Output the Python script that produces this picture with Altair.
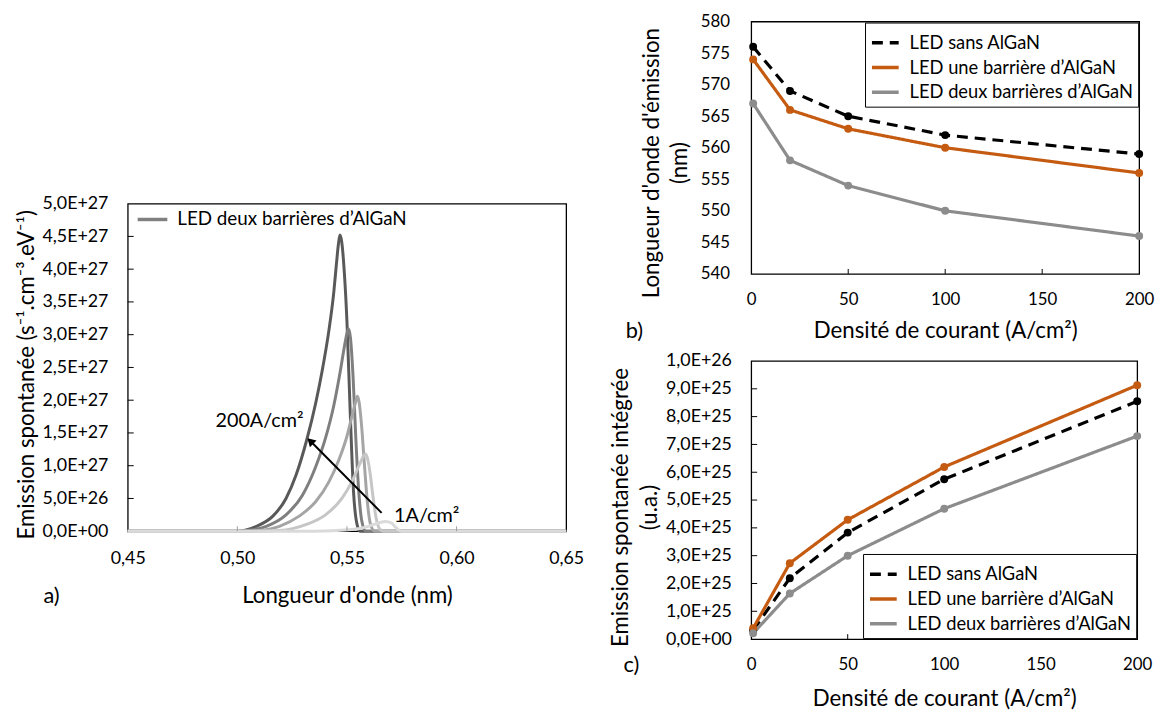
import altair as alt
import pandas as pd

FONT = "Lato"

# ---------------- a) spectra (two AlGaN barriers) ----------------
courants = ["200", "100", "50", "20", "1"]
gris = ["#595959", "#7F7F7F", "#A5A5A5", "#C6C6C6", "#DADADA"]

wl_200 = [0.450, 0.500, 0.5087, 0.5162, 0.5222, 0.5267, 0.5317, 0.5357, 0.5387, 0.5417, 0.5440, 0.5452,
          0.5461, 0.5468, 0.5476, 0.5488, 0.5500, 0.5515, 0.5530, 0.5545, 0.5560, 0.650]
em_200 = [0, 0, 0.075e27, 0.23e27, 0.50e27, 0.85e27, 1.40e27, 1.95e27, 2.45e27, 3.05e27, 3.65e27, 4.08e27,
          4.38e27, 4.52e27, 4.42e27, 3.95e27, 3.20e27, 1.80e27, 0.60e27, 0.12e27, 0, 0]

wl_100 = [0.450, 0.500, 0.5042, 0.5132, 0.5222, 0.5297, 0.5357, 0.5402, 0.5440, 0.5470, 0.5490, 0.5500,
          0.5507, 0.5516, 0.5528, 0.5540, 0.5553, 0.5568, 0.5586, 0.650]
em_100 = [0, 0, 0.01e27, 0.075e27, 0.25e27, 0.55e27, 0.98e27, 1.42e27, 1.92e27, 2.45e27, 2.85e27, 3.02e27,
          3.09e27, 2.95e27, 2.35e27, 1.45e27, 0.65e27, 0.15e27, 0, 0]

wl_50 = [0.450, 0.505, 0.5100, 0.5192, 0.5282, 0.5357, 0.5417, 0.5462, 0.5500, 0.5526, 0.5540, 0.5547,
         0.5555, 0.5567, 0.5580, 0.5593, 0.5608, 0.5628, 0.650]
em_50 = [0, 0, 0.01e27, 0.075e27, 0.23e27, 0.45e27, 0.75e27, 1.08e27, 1.45e27, 1.80e27, 1.98e27, 2.06e27,
         1.98e27, 1.60e27, 1.00e27, 0.45e27, 0.10e27, 0, 0]

wl_20 = [0.450, 0.510, 0.5192, 0.5312, 0.5402, 0.5477, 0.5523, 0.5560, 0.5576, 0.5584, 0.5593, 0.5605,
         0.5618, 0.5632, 0.5650, 0.5665, 0.650]
em_20 = [0, 0, 0.01e27, 0.10e27, 0.25e27, 0.50e27, 0.76e27, 1.04e27, 1.15e27, 1.18e27, 1.12e27, 0.90e27,
         0.55e27, 0.22e27, 0.03e27, 0, 0]

wl_1 = [0.450, 0.535, 0.5523, 0.5598, 0.5643, 0.5676, 0.5703, 0.5725, 0.5748, 0.650]
em_1 = [0, 0, 0.025e27, 0.075e27, 0.125e27, 0.15e27, 0.125e27, 0.05e27, 0, 0]

a_xticks = [0.45, 0.50, 0.55, 0.60, 0.65]
a_yticks = [0, 0.5e27, 1.0e27, 1.5e27, 2.0e27, 2.5e27, 3.0e27, 3.5e27, 4.0e27, 4.5e27, 5.0e27]

arrow_lam = [0.5658, 0.5333]
arrow_em = [0.28e27, 1.377e27]
annot_text = ["200A/cm²", "1A/cm²"]
annot_lam = [0.4900, 0.5715]
annot_em = [1.68e27, 0.23e27]

# ---------------- b) / c) versus current density ----------------
densite = [1, 20, 50, 100, 200]
series = [" LED sans AlGaN", "LED une barrière d’AlGaN", "LED deux barrières d’AlGaN"]
couleurs = ["#000000", "#C55A11", "#8C8C8C"]

lam_sans = [576, 569, 565, 562, 559]
lam_une = [574, 566, 563, 560, 556]
lam_deux = [567, 558, 554, 550, 546]

int_sans = [0.32e25, 2.19e25, 3.83e25, 5.75e25, 8.55e25]
int_une = [0.39e25, 2.73e25, 4.29e25, 6.19e25, 9.13e25]
int_deux = [0.21e25, 1.64e25, 3.00e25, 4.69e25, 7.30e25]

b_xticks = [0, 50, 100, 150, 200]
b_yticks = [540, 545, 550, 555, 560, 565, 570, 575, 580]
c_yticks = [0, 1e25, 2e25, 3e25, 4e25, 5e25, 6e25, 7e25, 8e25, 9e25, 1e26]

SCI = "datum.value == 0 ? '0,0E+00' : replace(upper(format(datum.value, '.1e')), '.', ',')"
TXT = dict(font=FONT, color="black")

# ======== panel a ========
WA, HA = 443, 331
rows = []
for c, wl, em in zip(courants, [wl_200, wl_100, wl_50, wl_20, wl_1], [em_200, em_100, em_50, em_20, em_1]):
    for w, e in zip(wl, em):
        rows.append({"courant": c, "lam": w, "em": e})
df_a = pd.DataFrame(rows)

xa_scale = alt.Scale(domain=[0.45, 0.65], nice=False, zero=False)
ya_scale = alt.Scale(domain=[0, 5e27], nice=False)


def xa_axis():
    return alt.Axis(values=a_xticks, labelExpr="replace(format(datum.value, '.2f'), '.', ',')",
                    labelPadding=19, labelOverlap=False, labelFlush=False, labelFontSize=18,
                    title="Longueur d'onde (nm)", titleY=65, titleBaseline="middle")


def ya_axis():
    return alt.Axis(values=a_yticks, labelExpr=SCI, labelPadding=20, labelOverlap=False, labelFlush=False,
                    labelFontSize=18, title="Emission spontanée (s⁻¹.cm⁻³.eV⁻¹)", titleX=-102,
                    titleY=HA / 2 + 7, titleBaseline="middle")


layers_a = []
for c, g in zip(courants, gris):
    layers_a.append(
        alt.Chart(df_a).transform_filter(alt.datum.courant == c)
        .mark_line(color=g, strokeWidth=3, interpolate="monotone")
        .encode(x=alt.X("lam:Q", scale=xa_scale, axis=xa_axis()),
                y=alt.Y("em:Q", scale=ya_scale, axis=ya_axis()),
                order="lam:Q")
    )

df_axt = pd.DataFrame({"lam": a_xticks[1:-1]})
tick_ax = alt.Chart(df_axt).mark_rule(color="#A0A0A0", strokeWidth=1).encode(
    x=alt.X("lam:Q", scale=xa_scale, axis=xa_axis()), y=alt.value(HA), y2=alt.value(HA - 5))
df_ayt = pd.DataFrame({"em": a_yticks[1:-1]})
tick_ay = alt.Chart(df_ayt).mark_rule(color="black", strokeWidth=1).encode(
    y=alt.Y("em:Q", scale=ya_scale, axis=ya_axis()), x=alt.value(0), x2=alt.value(6))

df_arrow = pd.DataFrame({"lam": arrow_lam, "em": arrow_em, "k": [0, 1]})
arrow_line = alt.Chart(df_arrow).mark_line(color="black", strokeWidth=2).encode(
    x=alt.X("lam:Q", scale=xa_scale, axis=xa_axis()), y=alt.Y("em:Q", scale=ya_scale, axis=ya_axis()),
    order="k:Q")
arrow_head = alt.Chart(df_arrow.iloc[[1]]).mark_point(shape="triangle-up", filled=True, color="black",
                                                      size=90, angle=315, opacity=1).encode(
    x=alt.X("lam:Q", scale=xa_scale, axis=xa_axis()), y=alt.Y("em:Q", scale=ya_scale, axis=ya_axis()))

df_annot = pd.DataFrame({"t": annot_text, "lam": annot_lam, "em": annot_em})
annot = alt.Chart(df_annot).mark_text(align="left", baseline="middle", fontSize=20, **TXT).encode(
    x=alt.X("lam:Q", scale=xa_scale, axis=xa_axis()), y=alt.Y("em:Q", scale=ya_scale, axis=ya_axis()),
    text="t:N")

dummy = pd.DataFrame({"v": [0]})
leg_a_line = alt.Chart(dummy).mark_rule(color="#808080", strokeWidth=3.5).encode(
    x=alt.value(10), x2=alt.value(40), y=alt.value(16))
leg_a_text = alt.Chart(dummy).mark_text(align="left", baseline="middle", fontSize=19, **TXT).encode(
    x=alt.value(50), y=alt.value(16), text=alt.value("LED deux barrières d’AlGaN"))
lab_a = alt.Chart(dummy).mark_text(align="center", baseline="middle", fontSize=22, **TXT).encode(
    x=alt.value(-77), y=alt.value(HA + 66), text=alt.value("a)"))

panel_a = alt.layer(*layers_a, tick_ax, tick_ay, arrow_line, arrow_head, annot,
                    leg_a_line, leg_a_text, lab_a).properties(width=WA, height=HA)

spacer = alt.Chart(dummy).mark_point(opacity=0).encode(
    x=alt.value(0), y=alt.value(0)).properties(width=10, height=184,
                                               view=alt.ViewBackground(stroke="transparent"))
col1 = alt.vconcat(spacer, panel_a, spacing=0, bounds="flush")


# ======== panels b and c ========
def long_df(vals):
    r = []
    for s, v in zip(series, vals):
        for x, y in zip(densite, v):
            r.append({"dens": x, "val": y, "serie": s})
    return pd.DataFrame(r)


def legend(orient, offset):
    return alt.Legend(title=None, orient=orient, offset=offset, strokeColor="black", fillColor="white",
                      padding=5, labelFont=FONT, labelFontSize=18.5, labelColor="black", labelLimit=400,
                      symbolType="stroke", symbolSize=729, symbolStrokeWidth=3.5, labelOffset=9,
                      rowPadding=0, values=series)


def panel(df, w, h, yscale, yaxis_fn, orient, offset, ytick_vals, label_txt, label_dx, label_dy, xtitle_y):
    xs = alt.Scale(domain=[0, 200], nice=False, zero=False)

    def xaxis():
        return alt.Axis(values=b_xticks, labelPadding=18, labelOverlap=False, labelFlush=False,
                        title="Densité de courant (A/cm²)", titleY=xtitle_y, titleBaseline="middle")

    col = alt.Color("serie:N", scale=alt.Scale(domain=series, range=couleurs), legend=legend(orient, offset))
    dash = alt.StrokeDash("serie:N", scale=alt.Scale(domain=series, range=[[11, 7], [1, 0], [1, 0]]),
                          legend=legend(orient, offset))
    lines = alt.Chart(df).mark_line(strokeWidth=3.2).encode(
        x=alt.X("dens:Q", scale=xs, axis=xaxis()), y=alt.Y("val:Q", scale=yscale, axis=yaxis_fn()),
        color=col, strokeDash=dash, order="dens:Q")
    layers = [lines]
    for s, cc in zip(series, couleurs):
        layers.append(
            alt.Chart(df).transform_filter(alt.datum.serie == s).mark_circle(size=64, opacity=1, color=cc)
            .encode(x=alt.X("dens:Q", scale=xs, axis=xaxis()), y=alt.Y("val:Q", scale=yscale, axis=yaxis_fn()))
        )
    tx = alt.Chart(pd.DataFrame({"dens": [50, 100, 150]})).mark_rule(color="black", strokeWidth=1).encode(
        x=alt.X("dens:Q", scale=xs, axis=xaxis()), y=alt.value(h), y2=alt.value(h - 5))
    layers.append(tx)
    if ytick_vals:
        ty = alt.Chart(pd.DataFrame({"val": ytick_vals})).mark_rule(color="black", strokeWidth=1).encode(
            y=alt.Y("val:Q", scale=yscale, axis=yaxis_fn()), x=alt.value(0), x2=alt.value(6))
        layers.append(ty)
    lab = alt.Chart(dummy).mark_text(align="center", baseline="middle", fontSize=22, **TXT).encode(
        x=alt.value(label_dx), y=alt.value(label_dy), text=alt.value(label_txt))
    layers.append(lab)
    return alt.layer(*layers).properties(width=w, height=h)


WB, HB = 392, 255
yb_scale = alt.Scale(domain=[540, 580], nice=False, zero=False)


def yb_axis():
    return alt.Axis(values=b_yticks, labelPadding=22, labelOverlap=False, labelFlush=False,
                    title=["Longueur d'onde d'émission", "(nm)"],
                    titleLineHeight=29, titleX=-101, titleY=HB / 2 + 15, titleBaseline="middle")


panel_b = panel(long_df([lam_sans, lam_une, lam_deux]), WB, HB, yb_scale, yb_axis, "top-right", 1,
                None, "b)", -118, 313, 57)

WC, HC = 390, 281
yc_scale = alt.Scale(domain=[0, 1e26], nice=False)


def yc_axis():
    return alt.Axis(values=c_yticks, labelExpr=SCI, labelPadding=20, labelOverlap=False, labelFlush=False,
                    labelFontSize=18, title=["Emission spontanée intégrée", "(u.a.)"], titleLineHeight=29,
                    titleX=-132, titleY=HC / 2 + 7, titleBaseline="middle")


panel_c = panel(long_df([int_sans, int_une, int_deux]), WC, HC, yc_scale, yc_axis, "bottom-right", 1,
                c_yticks[1:-1], "c)", -121, 307, 60)

col2 = alt.vconcat(panel_b, panel_c, spacing=88, bounds="flush").resolve_scale(
    color="independent", strokeDash="independent").resolve_legend(color="independent",
                                                                 strokeDash="independent")

chart = alt.hconcat(col1, col2, spacing=24, bounds="full").resolve_scale(
    color="independent", strokeDash="independent").properties(
    padding={"left": 7, "top": 0, "right": 0, "bottom": 0}
).configure(font=FONT).configure_view(
    stroke="black", strokeWidth=1.3
).configure_axis(
    labelFont=FONT, labelFontSize=17, labelColor="black", titleFont=FONT, titleFontSize=22.5,
    titleFontWeight="normal", titleColor="black", ticks=False, tickSize=0, grid=False, domain=False,
    labelOverlap=False, labelFlush=False
)

chart.save("out.html", embed_options={"renderer": "svg", "actions": False})
